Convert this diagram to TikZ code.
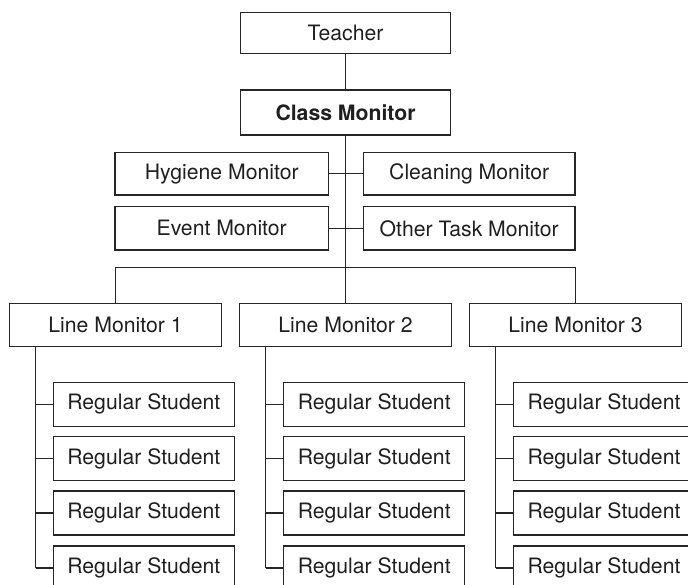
\documentclass[tikz,border=0pt]{standalone}
\usepackage{fontspec}
\setmainfont{TeX Gyre Heros}
\usetikzlibrary{calc}
\begin{document}
\begin{tikzpicture}[x=1pt,y=-1pt,
  box/.style={draw=black!85, line width=1.2pt, rectangle, inner sep=0pt,
    font=\fontsize{21.2}{25}\selectfont, text=black!88},
  link/.style={draw=black!85, line width=1.2pt}]
\useasboundingbox (0,0) rectangle (688,585);

% top of the hierarchy
\node[box, minimum width=210pt, minimum height=41.5pt] (teacher) at (345.5,33) {Teacher};
\node[box, minimum width=210pt, minimum height=45pt] (cm) at (345.5,112.5) {\bfseries Class Monitor};

% task monitors
\node[box, minimum width=213.3pt, minimum height=42.3pt] (hyg) at (221.7,173.9) {Hygiene Monitor};
\node[box, minimum width=211.7pt, minimum height=42.3pt] (clean) at (469.2,173.9) {Cleaning Monitor};
\node[box, minimum width=213.3pt, minimum height=43.3pt] (ev) at (221.7,228.3) {Event Monitor};
\node[box, minimum width=211.7pt, minimum height=43.3pt] (oth) at (469.2,228.3) {Other Task Monitor};

\coordinate (bar) at (345.5,267.7);

\draw[link] (teacher.south) -- (cm.north);
\draw[link, line width=1.8pt] (cm.south) -- (cm.south |- ev.east);
\draw[link] (cm.south |- ev.east) -- (bar);
\draw[link] (hyg.east) -- (clean.west);
\draw[link] (ev.east) -- (oth.west);

% line monitors and their students
\foreach \c/\lx/\rx/\tx in {1/115.5/143.8/35.7, 2/345.5/374.2/265.7, 3/575.5/604/495.7} {
  \node[box, minimum width=212.4pt, minimum height=43pt] (lm\c) at (\lx,325) {Line Monitor \c};
  \coordinate (t\c) at (\tx,346.7);
  \foreach \r/\ry in {1/404.3, 2/458.7, 3/513, 4/568} {
    \node[box, minimum width=181pt, minimum height=44pt] (rs\c\r) at (\rx,\ry) {Regular Student};
    \draw[link] (rs\c\r.west) -- (rs\c\r.west -| t\c);
  }
  \draw[link] (t\c) -- (t\c |- rs\c4.west);
}

\draw[link] (lm1.north) -- (lm1.north |- bar) -- (lm3.north |- bar) -- (lm3.north);
\draw[link] (lm2.north) -- (bar);
\end{tikzpicture}
\end{document}
